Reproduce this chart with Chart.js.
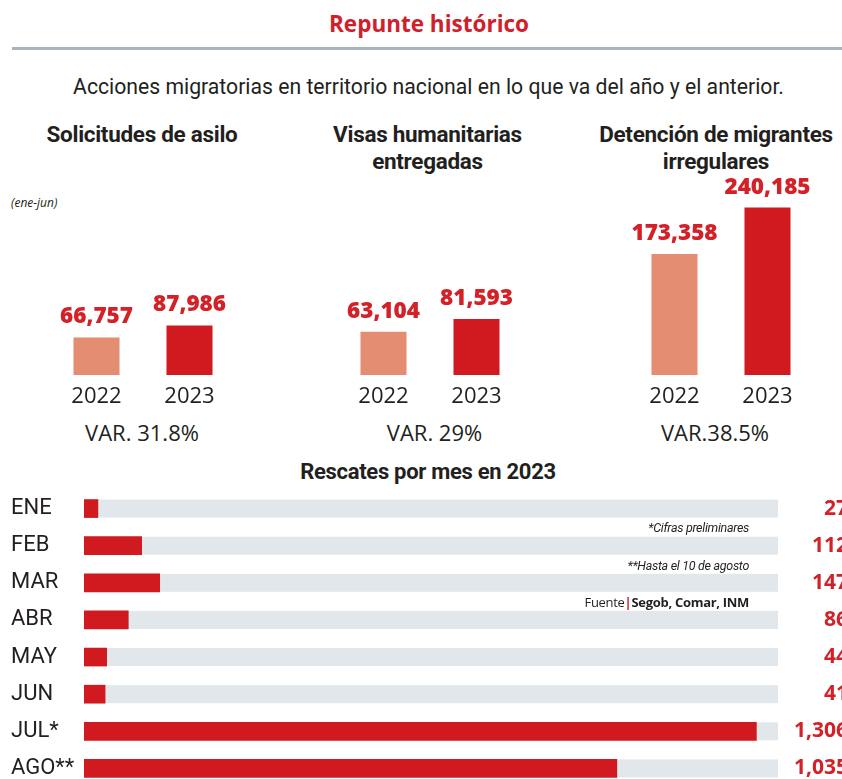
<!DOCTYPE html>
<html><head><meta charset="utf-8">
<script src="https://cdn.jsdelivr.net/npm/chart.js@4.4.0/dist/chart.umd.min.js"></script>
<style>
html,body{margin:0;padding:0;background:#fff;width:842px;height:779px;overflow:hidden;position:relative;}
.t{position:absolute;white-space:nowrap;color:#231f20;}
.c{transform:translateX(-50%);text-align:center;}
canvas{position:absolute;}
</style></head><body>
<div class="t c" style="left:429px;top:13px;font:700 22.5px/1 'Open Sans';color:#d0202a;">Repunte histórico</div>
<div style="position:absolute;left:12px;right:0;top:47px;height:3px;background:#a6b4bf;"></div>
<div class="t c" style="left:428.5px;top:76px;font:400 21.2px/1 Roboto;">Acciones migratorias en territorio nacional en lo que va del año y el anterior.</div>
<div id="titles"></div>
<div class="t" style="left:11px;top:197px;font:italic 400 12px/1 'Open Sans';">(ene-jun)</div>
<canvas id="c0" width="186" height="245" style="left:50px;top:170px;"></canvas>
<canvas id="c1" width="186" height="245" style="left:337px;top:170px;"></canvas>
<canvas id="c2" width="186" height="245" style="left:628px;top:170px;"></canvas>
<div id="vars"></div>
<div class="t c" style="left:428px;top:461px;font:700 22px/1 Roboto;letter-spacing:-0.3px;">Rescates por mes en 2023</div>
<canvas id="h" width="842" height="297" style="left:0;top:490px;"></canvas>
<div class="t" style="right:93px;top:521.5px;font:italic 400 12.5px/1 Roboto;letter-spacing:-0.3px;">*Cifras preliminares</div>
<div class="t" style="right:93px;top:559.5px;font:italic 400 12.5px/1 Roboto;letter-spacing:-0.3px;">**Hasta el 10 de agosto</div>
<div class="t" style="right:93px;top:595.5px;font:400 13px/1 'Open Sans';letter-spacing:-0.3px;">Fuente<span style="color:#d0202a;font-weight:700;">|</span><b>Segob, Comar, INM</b></div>
<script>
// ---- data ----
const YEARS = ['2022', '2023'];
const ASILO = [66757, 87986];
const VISAS = [63104, 81593];
const DETENCION = [173358, 240185];
const PANEL_TITLES = ['Solicitudes de asilo', 'Visas humanitarias<br>entregadas', 'Detención de migrantes<br>irregulares'];
const VARIACION = ['VAR. 31.8%', 'VAR. 29%', 'VAR.38.5%'];
const MESES = ['ENE', 'FEB', 'MAR', 'ABR', 'MAY', 'JUN', 'JUL*', 'AGO**'];
const RESCATES = [27, 112, 147, 86, 44, 41, 1306, 1035];

// ---- styles ----
const C22 = '#e48d72', C23 = '#d01a20', RED = '#d42027', TRACK = '#e1e7ea', INK = '#231f20';
const TITLE_X = [142, 427.5, 716];
const VAR_X = [142, 434.5, 715];
const YMAX = [364000, 299000, 294000];

const fmt = v => v.toLocaleString('en-US');

document.getElementById('titles').innerHTML = PANEL_TITLES.map((t, i) =>
  `<div class="t c" style="left:${TITLE_X[i]}px;top:121px;font:700 22.5px/27px Roboto;letter-spacing:-0.3px;">${t}</div>`).join('');
document.getElementById('vars').innerHTML = VARIACION.map((t, i) =>
  `<div class="t c" style="left:${VAR_X[i]}px;top:420.5px;font:400 22px/1 'Open Sans';">${t}</div>`).join('');

const valueLabels = {
  id: 'valueLabels',
  afterDatasetsDraw(chart) {
    const ctx = chart.ctx, meta = chart.getDatasetMeta(0), data = chart.data.datasets[0].data;
    ctx.save();
    ctx.font = '800 22.5px "Open Sans"';
    ctx.fillStyle = RED; ctx.textAlign = 'center'; ctx.textBaseline = 'alphabetic';
    meta.data.forEach((bar, i) => ctx.fillText(fmt(data[i]), bar.x, bar.y - 14));
    ctx.restore();
  }
};

function smallChart(id, values, ymax) {
  new Chart(document.getElementById(id), {
    type: 'bar',
    data: { labels: YEARS, datasets: [{ data: values, backgroundColor: [C22, C23], categoryPercentage: 0.5, barPercentage: 0.99 }] },
    options: {
      responsive: false, animation: false, layout: { padding: 0 },
      plugins: { legend: { display: false }, tooltip: { enabled: false } },
      scales: {
        x: { grid: { display: false, drawTicks: false }, border: { display: false },
             ticks: { font: { family: 'Open Sans', size: 22 }, color: INK, padding: 9 },
             afterFit(s) { s.height = 40; } },
        y: { display: false, min: 0, max: ymax }
      }
    },
    plugins: [valueLabels]
  });
}
smallChart('c0', ASILO, YMAX[0]);
smallChart('c1', VISAS, YMAX[1]);
smallChart('c2', DETENCION, YMAX[2]);

const track = {
  id: 'track',
  beforeDatasetsDraw(chart) {
    const ctx = chart.ctx, a = chart.chartArea;
    ctx.save(); ctx.fillStyle = TRACK;
    chart.getDatasetMeta(0).data.forEach(b => ctx.fillRect(a.left, b.y - b.height / 2, a.right - a.left, b.height));
    ctx.restore();
  }
};
const rightLabels = {
  id: 'rightLabels',
  afterDatasetsDraw(chart) {
    const ctx = chart.ctx, data = chart.data.datasets[0].data;
    ctx.save();
    ctx.font = '700 21px "Open Sans"'; ctx.fillStyle = RED; ctx.textAlign = 'right'; ctx.textBaseline = 'middle';
    chart.getDatasetMeta(0).data.forEach((b, i) => ctx.fillText(fmt(data[i]), 848, b.y));
    ctx.restore();
  }
};

new Chart(document.getElementById('h'), {
  type: 'bar',
  data: { labels: MESES, datasets: [{ data: RESCATES, backgroundColor: C23, barThickness: 18 }] },
  options: {
    indexAxis: 'y', responsive: false, animation: false,
    layout: { padding: { left: 11, right: 64, top: 0, bottom: 0 } },
    plugins: { legend: { display: false }, tooltip: { enabled: false } },
    scales: {
      x: { display: false, min: 0, max: 1348 },
      y: { grid: { display: false, drawTicks: false }, border: { display: false },
           ticks: { crossAlign: 'far', font: { family: 'Roboto', size: 22 }, color: INK },
           afterFit(s) { s.width = 73; s.paddingTop = 0; s.paddingBottom = 0; } }
    }
  },
  plugins: [track, rightLabels]
});
</script>
</body></html>
